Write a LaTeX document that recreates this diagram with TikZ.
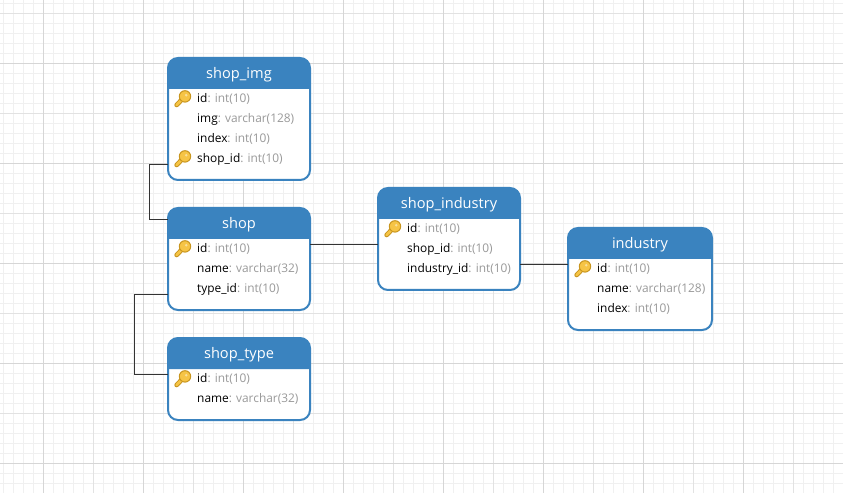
\documentclass[tikz,border=0pt]{standalone}
\usepackage{fontspec}
\setmainfont{Open Sans}
\definecolor{gridminor}{HTML}{F0F0F0}
\definecolor{gridmid}{HTML}{E2E2E2}
\definecolor{gridmajor}{HTML}{D6D6D6}
\definecolor{erblue}{HTML}{3A83BF}
\definecolor{typegrey}{HTML}{999999}
\definecolor{linkdark}{HTML}{333333}
\definecolor{keygold}{HTML}{F6C445}
\definecolor{keyedge}{HTML}{C9961F}
\tikzset{
  gridfine/.style={gridminor,line width=1bp},
  gridfifty/.style={gridmid,line width=1bp},
  gridhundred/.style={gridmajor,line width=1bp},
  tablebox/.style={draw=erblue,fill=white,line width=2bp,rounded corners=10bp,inner sep=0pt,outer sep=0pt},
  headfill/.style={fill=erblue},
  titletext/.style={text=white,inner sep=0pt,font=\fontsize{14.6bp}{16bp}\selectfont},
  rowtext/.style={anchor=base west,inner sep=0pt,font=\fontsize{11.9bp}{14bp}\selectfont},
  linkline/.style={linkdark,line width=1bp},
  keyicon/.pic={
    % shaft and bit, then the round bow on top
    \draw[keyedge,line width=4.6bp,line cap=round] (-6.4,7) -- (0,0.4);
    \draw[keyedge,line width=3bp] (-5.4,3.6) -- (-3.2,5.8) (-3,1.4) -- (-0.8,3.6);
    \draw[keygold,line width=2.6bp,line cap=round] (-6.4,7) -- (0,0.4);
    \fill[keygold,draw=keyedge,line width=1bp] (2,-1.6) circle (5.7);
    \fill[keygold!55!white] (3.2,-2.8) circle (1.4);
  },
}
% Table frame with its coloured title band: id, left, top, right, bottom, band bottom, title
\newcommand{\dbtable}[7]{%
  \node[tablebox,minimum width={(#4-#2)*1bp},minimum height={(#5-#3)*1bp}] (#1) at ({(#2+#4)/2},{(#3+#5)/2}) {};
  \fill[headfill] (#2,#6) [rounded corners=9bp] -- (#2,#3) -- (#4,#3) [sharp corners] -- (#4,#6) -- cycle;
  \node[titletext] (#1title) at ({(#2+#4)/2},{#3+16.5}) {#7};
}
% One column row: node id, text left, row centre, column name, column type
\newcommand{\dbrow}[5]{%
  \node[rowtext] (#1) at (#2,{#3+4.3}) {#4\textcolor{typegrey}{: #5}};
}
\begin{document}
\begin{tikzpicture}[x=1bp,y=-1bp]
\useasboundingbox (0,0) rectangle (843,493);
\fill[white] (0,0) rectangle (843,493);
\begin{scope}
\clip (0,0) rectangle (843,493);
% background grid in three weights
\foreach \gx in {0,...,84} {\draw[gridfine] ({\gx*10+3.5},0) -- ({\gx*10+3.5},493);}
\foreach \gy in {0,...,49} {\draw[gridfine] (0,{\gy*10+3.5}) -- (843,{\gy*10+3.5});}
\foreach \gx in {0,...,16} {\draw[gridfifty] ({\gx*50+43.5},0) -- ({\gx*50+43.5},493);}
\foreach \gy in {0,...,9} {\draw[gridfifty] (0,{\gy*50+13.5}) -- (843,{\gy*50+13.5});}
\foreach \gx in {0,...,8} {\draw[gridhundred] ({\gx*100+43.5},0) -- ({\gx*100+43.5},493);}
\foreach \gy in {0,...,4} {\draw[gridhundred] (0,{\gy*100+63.5}) -- (843,{\gy*100+63.5});}
\end{scope}

% tables
\dbtable{shopimg}{168}{58}{310}{180}{89}{shop\_img}
\dbrow{imgid}{197}{98}{id}{int(10)}
\dbrow{imgimg}{197}{118}{img}{varchar(128)}
\dbrow{imgindex}{197}{138}{index}{int(10)}
\dbrow{imgshop}{197}{158}{shop\_id}{int(10)}
\pic at (183,98) {keyicon};
\pic at (183,158) {keyicon};

\dbtable{shop}{168}{208}{310}{310}{239}{shop}
\dbrow{shopid}{197}{248}{id}{int(10)}
\dbrow{shopname}{197}{268}{name}{varchar(32)}
\dbrow{shoptype}{197}{288}{type\_id}{int(10)}
\pic at (183,248) {keyicon};

\dbtable{shoptypetbl}{168}{338}{310}{420}{369}{shop\_type}
\dbrow{typeid}{197}{378}{id}{int(10)}
\dbrow{typename}{197}{398}{name}{varchar(32)}
\pic at (183,378) {keyicon};

\dbtable{shopindustry}{378}{188}{520}{290}{219}{shop\_industry}
\dbrow{siid}{407}{228}{id}{int(10)}
\dbrow{sishop}{407}{248}{shop\_id}{int(10)}
\dbrow{siindustry}{407}{268}{industry\_id}{int(10)}
\pic at (393,228) {keyicon};

\dbtable{industry}{568}{228}{712}{330}{259}{industry}
\dbrow{indid}{597}{268}{id}{int(10)}
\dbrow{indname}{597}{288}{name}{varchar(128)}
\dbrow{indindex}{597}{308}{index}{int(10)}
\pic at (583,268) {keyicon};

% relationships
\coordinate (imgbend) at (149.5,164.5);
\coordinate (shopbendtop) at (149.5,219.5);
\coordinate (shopbendlow) at (134.5,294.5);
\coordinate (typebend) at (134.5,374.5);
\coordinate (shopside) at (310,244.5);
\coordinate (indside) at (520,264.5);
\draw[linkline] (shopimg.west |- imgbend) -- (imgbend) -- (shopbendtop) -- (shop.west |- shopbendtop);
\draw[linkline] (shop.west |- shopbendlow) -- (shopbendlow) -- (typebend) -- (shoptypetbl.west |- typebend);
\draw[linkline] (shop.east |- shopside) -- (shopindustry.west |- shopside);
\draw[linkline] (shopindustry.east |- indside) -- (industry.west |- indside);
\end{tikzpicture}
\end{document}
